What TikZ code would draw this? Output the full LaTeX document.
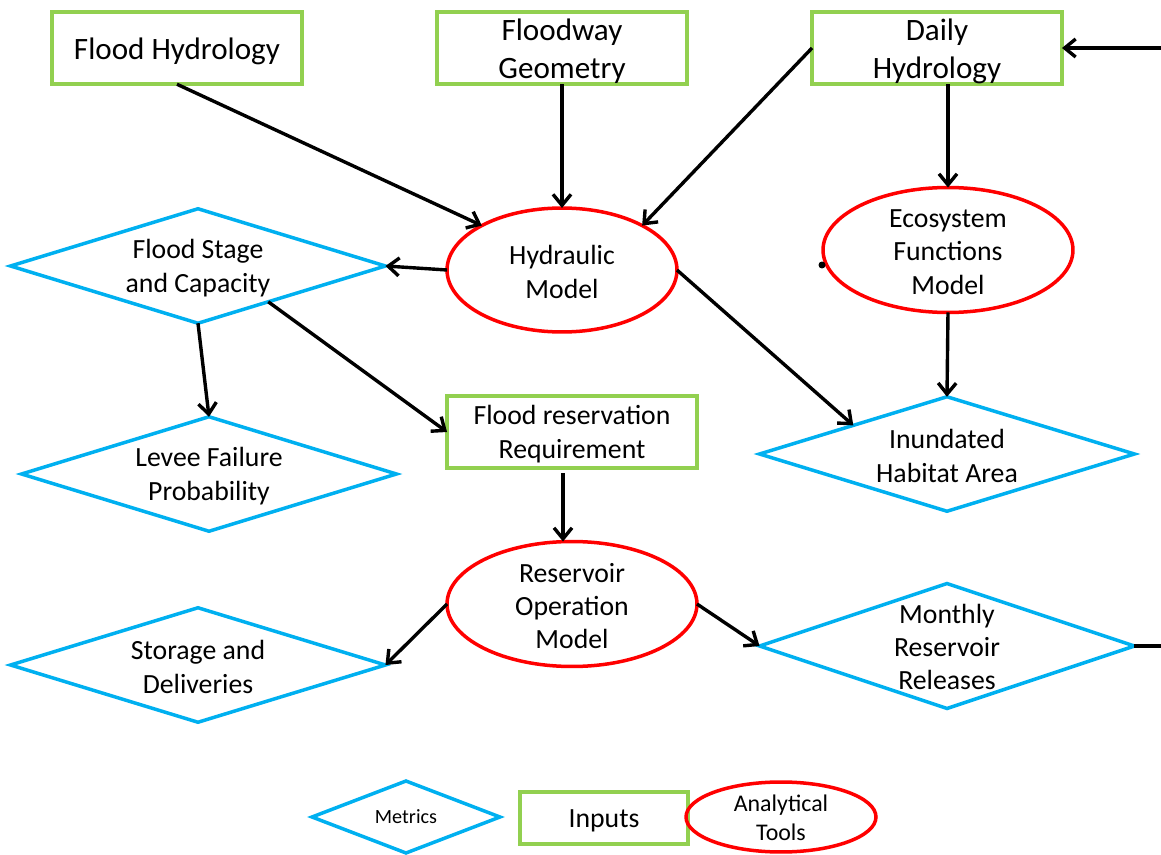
\documentclass[tikz,border=0pt]{standalone}
\usepackage{fontspec}
\setmainfont{Carlito}
\usetikzlibrary{shapes.geometric,arrows.meta,calc}
\definecolor{inputgreen}{RGB}{146,208,80}
\definecolor{metricblue}{RGB}{0,176,240}
\definecolor{toolred}{RGB}{255,0,0}

\begin{document}
\begin{tikzpicture}[x=0.02cm,y=-0.02cm,
  input/.style={draw=inputgreen,line width=0.07cm,rectangle,inner sep=0,outer sep=0,
                minimum width=5cm,minimum height=1.45cm},
  metric/.style={draw=metricblue,line width=0.07cm,diamond,inner sep=0,outer sep=0,
                 minimum width=7.5cm,minimum height=2.29cm},
  tool/.style={draw=toolred,line width=0.07cm,ellipse,inner sep=0,outer sep=0,
               minimum width=5cm,minimum height=2.5cm},
  bigtext/.style={align=center,inner sep=0,yshift=-0.06cm,font=\fontsize{17.7}{21.6}\selectfont},
  midtext/.style={align=center,inner sep=0,yshift=-0.04cm,font=\fontsize{15.8}{18.9}\selectfont},
  flow/.style={line width=0.068cm,-{Straight Barb[length=0.22cm,width=0.36cm]}},
  link/.style={line width=0.068cm},
]
\useasboundingbox (0,0) rectangle (1161,855);

% inputs
\node[input] (fh) at (177,48) {};
\node[bigtext] (fh-t) at (fh) {Flood Hydrology};
\node[input] (fg) at (562,48) {};
\node[bigtext] (fg-t) at (fg) {Floodway\\Geometry};
\node[input] (dh) at (937,48) {};
\node[bigtext] (dh-t) at (dh) {Daily\\Hydrology};
\node[input] (frr) at (572,432) {};
\node[midtext] (frr-t) at (frr) {Flood reservation\\Requirement};

% analytical tools
\node[tool,minimum width=4.6cm,minimum height=2.48cm] (hyd) at (562,270) {};
\node[midtext] (hyd-t) at (hyd) {Hydraulic\\Model};
\node[tool] (eco) at (948,250) {};
\node[midtext] (eco-t) at (eco) {Ecosystem\\Functions\\Model};
\node[tool] (rom) at (572,604) {};
\node[midtext] (rom-t) at (rom) {Reservoir\\Operation\\Model};

% metrics
\node[metric] (fsc) at (198,266) {};
\node[midtext] (fsc-t) at (fsc) {Flood Stage\\and Capacity};
\node[metric] (lev) at (209,474) {};
\node[midtext] (lev-t) at (lev) {Levee Failure\\Probability};
\node[metric] (inu) at (947,454) {};
\node[midtext] (inu-t) at (inu) {Inundated\\Habitat Area};
\node[metric] (sd) at (198,665) {};
\node[midtext] (sd-t) at (sd) {Storage and\\Deliveries};
\node[metric,minimum height=2.5cm] (mrr) at (947,646) {};
\node[midtext,yshift=0.02cm] (mrr-t) at (mrr) {Monthly\\Reservoir\\Releases};

% stray mark
\node[circle,fill=black,inner sep=0,minimum size=0.14cm] (dot) at (822,265) {};

% connectors
\draw[flow] (fh.south) -- (hyd.151);
\draw[flow] (fg.south) -- (hyd.north);
\draw[flow] (dh.west) -- (hyd.29);
\draw[flow] (dh.south -| eco.north) -- (eco.north);
\draw[flow] (hyd.west) -- (fsc.east);
\draw[flow] (hyd.east) -- (inu.163);
\draw[flow] (eco.south) -- (inu.north);
\draw[flow] (fsc.south) -- (lev.north);
\draw[flow] (fsc.-27) -- (frr.west);
\draw[flow] ([xshift=-0.18cm,yshift=-0.1cm]frr.south) -- ([xshift=-0.18cm]rom.north);
\draw[flow] (rom.west) -- (sd.east);
\draw[flow] (rom.east) -- (mrr.west);

% feedback loop leaving the frame
\coordinate (loopout) at (1161,646);
\coordinate (loopin) at (1161,48);
\draw[link] (mrr.east) -- (loopout);
\draw[flow] (loopin) -- (dh.east);

% legend
\node[metric,minimum width=3.76cm,minimum height=1.44cm] (lg-met) at (406,817) {};
\node[align=center,inner sep=0,font=\fontsize{11.5}{13.8}\selectfont] (lg-met-t) at (lg-met) {Metrics};
\node[input,minimum width=3.36cm,minimum height=1.04cm] (lg-inp) at (604,818) {};
\node[align=center,inner sep=0,yshift=-0.05cm,font=\fontsize{15.8}{18.9}\selectfont] (lg-inp-t) at (lg-inp) {Inputs};
\node[tool,minimum width=3.8cm,minimum height=1.4cm] (lg-ana) at (781,817) {};
\node[align=center,inner sep=0,yshift=-0.02cm,font=\fontsize{13.6}{16.3}\selectfont] (lg-ana-t) at (lg-ana) {Analytical\\Tools};
\end{tikzpicture}
\end{document}
